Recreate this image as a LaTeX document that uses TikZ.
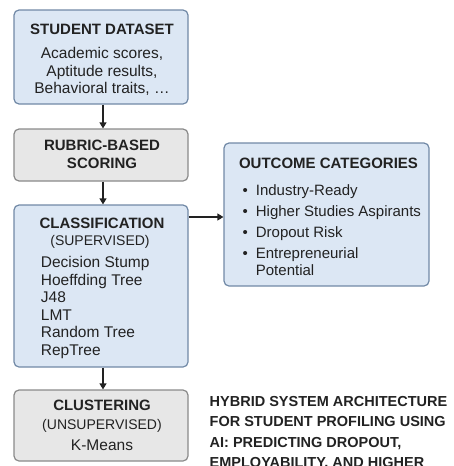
\documentclass[tikz,border=0pt]{standalone}
\usepackage{fontspec}
\setmainfont{Liberation Sans}
\usetikzlibrary{arrows.meta}
\definecolor{bluefill}{HTML}{DCE7F4}
\definecolor{blueline}{HTML}{7189A6}
\definecolor{grayfill}{HTML}{E7E7E7}
\definecolor{grayline}{HTML}{8A8A8A}
\definecolor{ink}{HTML}{222222}
\begin{document}
\begin{tikzpicture}[x=1pt,y=-1pt,
  box/.style={draw, line width=1.2pt, rounded corners=5pt, inner sep=0pt},
  bluebox/.style={box, fill=bluefill, draw=blueline},
  graybox/.style={box, fill=grayfill, draw=grayline},
  arr/.style={draw=ink, line width=1.2pt, -{Triangle[length=6pt,width=7pt]}},
  ttl/.style={anchor=base, font=\fontsize{15}{18}\selectfont\bfseries, text=ink, inner sep=0pt},
  sub/.style={anchor=base, font=\fontsize{14}{17}\selectfont, text=ink, inner sep=0pt},
  body/.style={anchor=base, font=\fontsize{15.5}{18}\selectfont, text=ink, inner sep=0pt},
  lst/.style={anchor=base west, font=\fontsize{15.5}{18}\selectfont, text=ink, inner sep=0pt},
  olst/.style={anchor=base west, font=\fontsize{15}{18}\selectfont, text=ink, inner sep=0pt},
  foot/.style={anchor=base west, font=\fontsize{14.5}{18}\selectfont\bfseries, text=ink, inner sep=0pt}
]
\useasboundingbox (0,0) rectangle (453,466);
\clip (0,0) rectangle (453,466);

% boxes
\node[bluebox, minimum width=174pt, minimum height=94pt] (ds) at (101,57) {};
\node[graybox, minimum width=174pt, minimum height=52pt] (rb) at (101,155) {};
\node[bluebox, minimum width=174pt, minimum height=162pt] (cl) at (101,286) {};
\node[graybox, minimum width=174pt, minimum height=71pt] (cu) at (101,425.5) {};
\node[bluebox, minimum width=205pt, minimum height=143pt] (oc) at (326.5,214.5) {};

% arrows
\draw[arr] ([xshift=2pt]ds.south) -- ([xshift=2pt]rb.north);
\draw[arr] ([xshift=2pt]rb.south) -- ([xshift=2pt]cl.north);
\draw[arr] ([xshift=2pt]cl.south) -- ([xshift=2pt]cu.north);
\draw[arr] ([yshift=-2.5pt]oc.west -| cl.east) -- ([yshift=-2.5pt]oc.west);

% student dataset
\node[ttl] (dst) at (102,34.3) {STUDENT DATASET};
\node[body] (ds1) at (102,58.3) {Academic scores,};
\node[body] (ds2) at (102,76) {Aptitude results,};
\node[body] (ds3) at (102,93.7) {Behavioral traits, …};

% rubric
\node[ttl] (rb1) at (102,150.7) {RUBRIC-BASED};
\node[ttl] (rb2) at (102,168.3) {SCORING};

% classification
\node[ttl] (clt) at (102,228.3) {CLASSIFICATION};
\node[sub] (cls) at (100,245.7) {(SUPERVISED)};
\node[lst] (c1) at (40.7,267.8) {Decision Stump};
\node[lst] (c2) at (40.7,285.5) {Hoeffding Tree};
\node[lst] (c3) at (40.7,302.8) {J48};
\node[lst] (c4) at (40.7,320.5) {LMT};
\node[lst] (c5) at (40.7,337.8) {Random Tree};
\node[lst] (c6) at (40.7,355.5) {RepTree};

% clustering
\node[ttl] (cut) at (102,410.7) {CLUSTERING};
\node[sub] (cus) at (102,429.3) {(UNSUPERVISED)};
\node[body] (cuk) at (102,450.7) {K-Means};

% outcome categories
\node[ttl] (oct) at (328.5,168.3) {OUTCOME CATEGORIES};
\node[olst] (o1) at (242.4,195.7) {\makebox[13.3pt][l]{•}Industry-Ready};
\node[olst] (o2) at (242.4,216.7) {\makebox[13.3pt][l]{•}Higher Studies Aspirants};
\node[olst] (o3) at (242.4,237.3) {\makebox[13.3pt][l]{•}Dropout Risk};
\node[olst] (o4) at (242.4,258.3) {\makebox[13.3pt][l]{•}Entrepreneurial};
\node[olst] (o5) at (255.7,275.7) {Potential};

% footer title
\node[foot] (f1) at (209.5,406.7) {HYBRID SYSTEM ARCHITECTURE};
\node[foot] (f2) at (209.5,426.7) {FOR STUDENT PROFILING USING};
\node[foot] (f3) at (209.5,447) {AI: PREDICTING DROPOUT,};
\node[foot] (f4) at (209.5,467) {EMPLOYABILITY, AND HIGHER};
\end{tikzpicture}
\end{document}
